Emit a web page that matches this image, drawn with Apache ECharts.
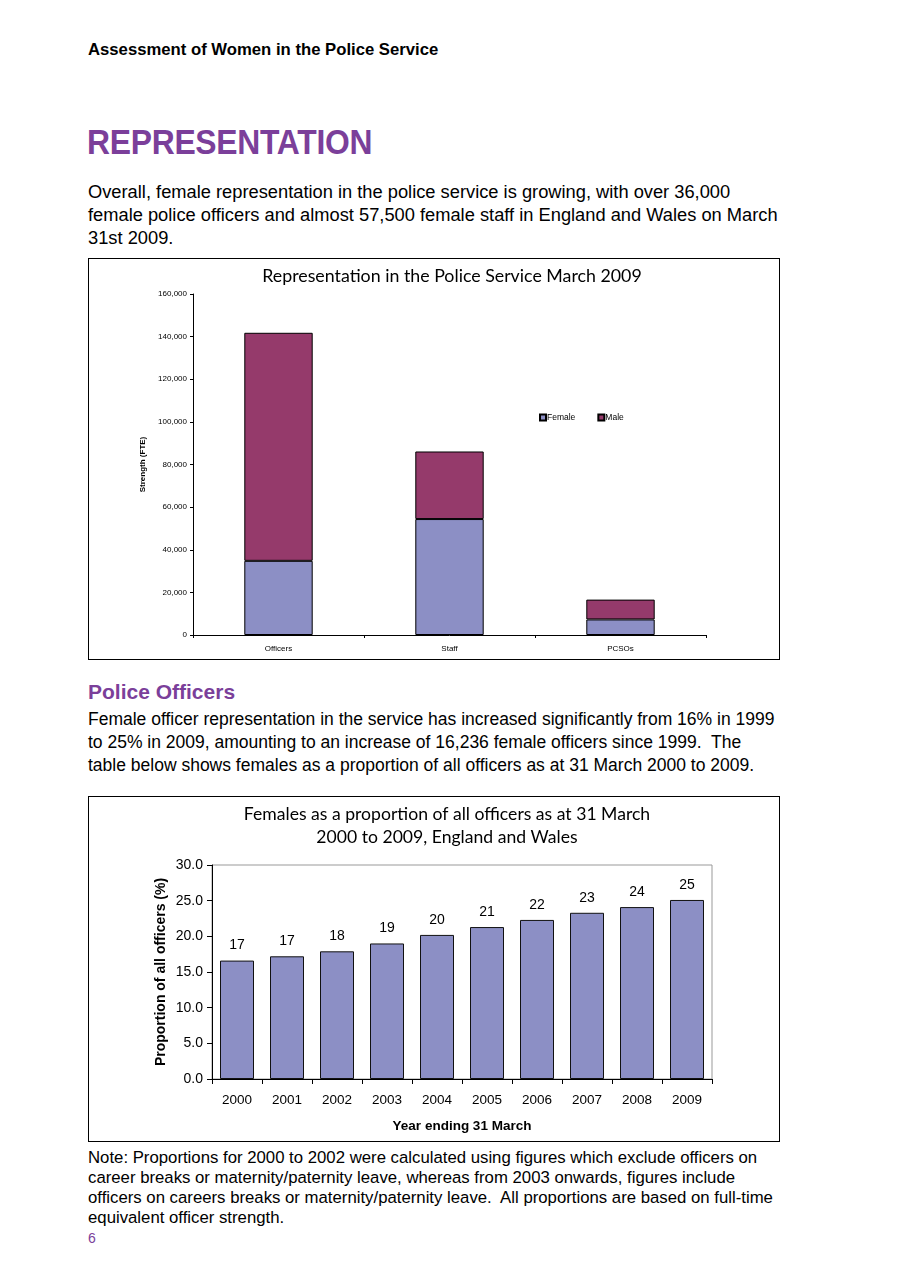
<!DOCTYPE html>
<html>
<head>
<meta charset="utf-8">
<script src="https://cdn.jsdelivr.net/npm/echarts@6/dist/echarts.min.js"></script>
<style>
body { margin: 0; background: #fff; font-family: "Liberation Sans", Arial, sans-serif; color: #000; }
.page { position: relative; width: 910px; height: 1287px; }
.abs { position: absolute; white-space: nowrap; }
#hdr { left: 88px; top: 40px; font-size: 16.7px; font-weight: bold; }
#h1 { left: 87px; top: 122px; font-size: 35px; font-weight: bold; color: #7b3f9a; transform: scaleX(0.91); transform-origin: left top; letter-spacing: -0.3px; }
#p1 { left: 88px; top: 180px; font-size: 18.3px; line-height: 23px; }
#h2 { left: 88px; top: 680px; font-size: 21px; font-weight: bold; color: #7b3f9a; }
#p2 { left: 88px; top: 708px; font-size: 17.5px; line-height: 23px; }
#note { left: 88px; top: 1148px; font-size: 16.75px; line-height: 20px; }
#pg { left: 88px; top: 1230px; font-size: 14px; color: #7b3f9a; }
.box { position: absolute; left: 88px; width: 690px; border: 1px solid #000; }
#c1 { top: 258px; height: 400px; }
#c2 { top: 796px; height: 344px; }
</style>
</head>
<body>
<div class="page">
  <div class="abs" id="hdr">Assessment of Women in the Police Service</div>
  <div class="abs" id="h1">REPRESENTATION</div>
  <div class="abs" id="p1">Overall, female representation in the police service is growing, with over 36,000<br>female police officers and almost 57,500 female staff in England and Wales on March<br>31st 2009.</div>
  <div class="box" id="c1"></div>
  <div class="abs" id="h2">Police Officers</div>
  <div class="abs" id="p2">Female officer representation in the service has increased significantly from 16% in 1999<br>to 25% in 2009, amounting to an increase of 16,236 female officers since 1999.&nbsp; The<br>table below shows females as a proportion of all officers as at 31 March 2000 to 2009.</div>
  <div class="box" id="c2"></div>
  <div class="abs" id="note">Note: Proportions for 2000 to 2002 were calculated using figures which exclude officers on<br>career breaks or maternity/paternity leave, whereas from 2003 onwards, figures include<br>officers on careers breaks or maternity/paternity leave.&nbsp; All proportions are based on full-time<br>equivalent officer strength.</div>
  <div class="abs" id="pg">6</div>
</div>
<script>
// chart 1: strength by group, March 2009
var groups = ['Officers', 'Staff', 'PCSOs'];
var female = [34800, 54400, 7300];
var male = [107000, 31700, 9300];
var strengthTicks = [0, 20000, 40000, 60000, 80000, 100000, 120000, 140000, 160000];

// chart 2: female share of officers
var years = ['2000', '2001', '2002', '2003', '2004', '2005', '2006', '2007', '2008', '2009'];
var share = [16.6, 17.2, 17.9, 19.0, 20.2, 21.3, 22.3, 23.3, 24.1, 25.1];
var shareTicks = [0, 5, 10, 15, 20, 25, 30];

var FEMALE = '#8c8fc5', MALE = '#953a6b';
var titleFont = 'Lato, "Open Sans", sans-serif';

var chart1 = echarts.init(document.getElementById('c1'));
chart1.setOption({
	animation: false,
	title: {
		text: 'Representation in the Police Service March 2009',
		left: 358, top: 3, textAlign: 'center',
		textStyle: { fontFamily: titleFont, fontSize: 17.8, fontWeight: 'normal', color: '#000' }
	},
	legend: {
		left: 445, top: 149,
		itemWidth: 6, itemHeight: 6, itemGap: 22,
		icon: 'rect',
		textStyle: { fontFamily: 'Liberation Sans', fontSize: 8.5, color: '#000', padding: [0, 0, 0, -4] },
		data: ['Female', 'Male']
	},
	grid: { left: 104, top: 35, right: 73, bottom: 24, containLabel: false, outerBoundsMode: 'none' },
	xAxis: {
		type: 'category', data: groups,
		axisLine: { lineStyle: { color: '#000', width: 1 } },
		axisTick: { show: true, length: 3, lineStyle: { color: '#000' } },
		axisLabel: { fontFamily: 'Liberation Sans', fontSize: 8, color: '#000', margin: 10 }
	},
	yAxis: {
		type: 'value', min: strengthTicks[0], max: strengthTicks[strengthTicks.length - 1], interval: 20000,
		name: 'Strength (FTE)', nameLocation: 'middle', nameGap: 44, nameRotate: 90,
		nameTextStyle: { fontFamily: 'Liberation Sans', fontSize: 8, fontWeight: 'bold', color: '#000' },
		axisLine: { show: true, lineStyle: { color: '#000' } },
		axisTick: { show: true, length: 3, lineStyle: { color: '#000' } },
		splitLine: { show: false },
		axisLabel: {
			fontFamily: 'Liberation Sans', fontSize: 8, color: '#000', margin: 6,
			formatter: function (v) { return v.toLocaleString('en-GB'); }
		}
	},
	series: [
		{ name: 'Female', type: 'bar', stack: 's', data: female, barWidth: '40%',
		  itemStyle: { color: FEMALE, borderColor: '#000', borderWidth: 1 } },
		{ name: 'Male', type: 'bar', stack: 's', data: male, barWidth: '40%',
		  itemStyle: { color: MALE, borderColor: '#000', borderWidth: 1 } }
	]
});

var chart2 = echarts.init(document.getElementById('c2'));
chart2.setOption({
	animation: false,
	title: {
		text: 'Females as a proportion of all officers as at 31 March\n2000 to 2009, England and Wales',
		left: 353, top: 1, textAlign: 'center',
		textStyle: { fontFamily: titleFont, fontSize: 17.6, fontWeight: 'normal', color: '#000', lineHeight: 23 }
	},
	grid: { left: 123, top: 68, right: 67, bottom: 62, show: true, borderColor: '#999', borderWidth: 1, outerBoundsMode: 'none' },
	xAxis: {
		type: 'category', data: years,
		name: 'Year ending 31 March', nameLocation: 'middle', nameGap: 40, nameMoveOverlap: false,
		nameTextStyle: { fontFamily: 'Liberation Sans', fontSize: 13.5, fontWeight: 'bold', color: '#000' },
		axisLine: { lineStyle: { color: '#000' } },
		axisTick: { show: true, length: 5, lineStyle: { color: '#000' } },
		axisLabel: { fontFamily: 'Liberation Sans', fontSize: 13.5, color: '#000', margin: 14 }
	},
	yAxis: {
		type: 'value', min: shareTicks[0], max: shareTicks[shareTicks.length - 1], interval: 5,
		name: 'Proportion of all officers (%)', nameLocation: 'middle', nameGap: 44, nameRotate: 90,
		nameMoveOverlap: false,
		nameTextStyle: { fontFamily: 'Liberation Sans', fontSize: 14, fontWeight: 'bold', color: '#000' },
		axisLine: { show: true, lineStyle: { color: '#000' } },
		axisTick: { show: true, length: 5, lineStyle: { color: '#000' } },
		splitLine: { show: false },
		axisLabel: {
			fontFamily: 'Liberation Sans', fontSize: 14, color: '#000', margin: 9,
			formatter: function (v) { return v.toFixed(1); }
		}
	},
	series: [{
		type: 'bar', data: share, barWidth: '68%',
		itemStyle: { color: FEMALE, borderColor: '#111', borderWidth: 1 },
		label: {
			show: true, position: 'top', distance: 8,
			fontFamily: 'Liberation Sans', fontSize: 14, color: '#000',
			formatter: function (p) { return Math.round(p.value); }
		}
	}]
});
</script>
</body>
</html>
